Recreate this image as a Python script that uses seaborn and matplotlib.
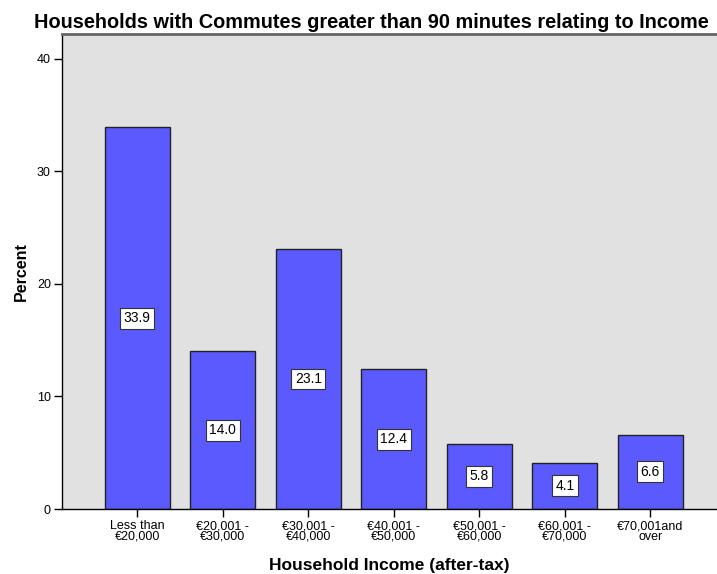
import matplotlib
matplotlib.use("Agg")
import matplotlib.pyplot as plt
import seaborn as sns
import pandas as pd

# --- Data ---
categories = ["Less than\n€20,000", "€20,001 -\n€30,000", "€30,001 -\n€40,000",
              "€40,001 -\n€50,000", "€50,001 -\n€60,000", "€60,001 -\n€70,000",
              "€70,001and\nover"]
percent = [33.9, 14.0, 23.1, 12.4, 5.8, 4.1, 6.6]
value_labels = ["33.9", "14.0", "23.1", "12.4", "5.8", "4.1", "6.6"]
y_ticks = [0, 10, 20, 30, 40]

df = pd.DataFrame({"income": categories, "percent": percent})

sns.set_style("white")
plt.rcParams["font.family"] = ["Liberation Sans", "DejaVu Sans"]
plt.rcParams["text.color"] = "black"
plt.rcParams["axes.labelcolor"] = "black"
plt.rcParams["xtick.color"] = "black"
plt.rcParams["ytick.color"] = "black"

fig = plt.figure(figsize=(7.17, 5.74), dpi=100)
ax = fig.add_axes([0.0865, 0.1132, 0.9135, 0.8276])
ax.set_facecolor("#e1e1e1")

sns.barplot(data=df, x="income", y="percent", color="#5a5aff", saturation=1,
            width=0.76, edgecolor="#222222", linewidth=1.0, ax=ax)

for i, (v, lab) in enumerate(zip(percent, value_labels)):
    ax.text(i, v / 2, lab, ha="center", va="center", fontsize=10,
            bbox=dict(boxstyle="square,pad=0.25", facecolor="white",
                      edgecolor="#333333", linewidth=0.8))

ax.set_xlim(-0.88, 6.78)
ax.set_ylim(0, 42.2)
ax.set_yticks(y_ticks)
ax.tick_params(axis="both", length=6, width=1, color="black", direction="out",
               labelsize=9, pad=2, left=True, bottom=True)

for side in ["left", "bottom"]:
    ax.spines[side].set_color("black")
    ax.spines[side].set_linewidth(1)
ax.spines["top"].set_color("#666666")
ax.spines["top"].set_linewidth(2)
ax.spines["right"].set_visible(False)

ax.set_xlabel("Household Income (after-tax)", fontsize=12.5, fontweight="bold", labelpad=11)
ax.set_ylabel("Percent", fontsize=11.5, fontweight="bold", labelpad=6)
ax.set_title("Households with Commutes greater than 90 minutes relating to Income",
             fontsize=14.3, fontweight="bold", pad=4, x=0.472)

for t in ax.get_xticklabels():
    t.set_linespacing(0.85)

fig.savefig("out.png", dpi=100)
